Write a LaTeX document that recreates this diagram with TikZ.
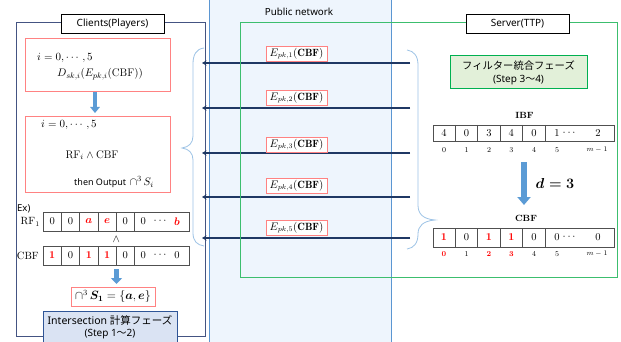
\documentclass[tikz,border=0pt]{standalone}
\usepackage{amsmath,amssymb}
\usepackage{fontspec}
\newfontfamily\carl{Noto Sans}
\newfontfamily\jp{Noto Sans CJK JP}
\usetikzlibrary{arrows.meta}
\definecolor{pnfill}{RGB}{238,245,253}
\definecolor{pnline}{RGB}{91,150,210}
\definecolor{clline}{RGB}{68,84,130}
\definecolor{grline}{RGB}{60,190,110}
\definecolor{pinkc}{RGB}{255,130,130}
\definecolor{navy}{RGB}{31,56,100}
\definecolor{braceC}{RGB}{157,195,230}
\definecolor{blueA}{RGB}{91,155,213}
\definecolor{phgfill}{RGB}{226,240,217}
\definecolor{phgline}{RGB}{0,176,80}
\definecolor{phbfill}{RGB}{218,227,243}
\definecolor{phbline}{RGB}{47,85,151}
\definecolor{cellC}{RGB}{80,80,80}
\definecolor{redT}{RGB}{255,0,0}
\tikzset{
  titlebox/.style={draw=black, fill=white, line width=0.8pt, minimum width=103pt, minimum height=19pt, inner sep=0pt, font=\carl\fontsize{10}{11}\selectfont},
  pinkbox/.style={draw=pinkc, fill=white, line width=0.8pt, inner sep=0pt},
  elabel/.style={draw=pinkc, fill=white, line width=0.7pt, minimum width=61pt, minimum height=15pt, inner sep=0pt, font=\fontsize{10.5}{11}\selectfont},
  netarrow/.style={draw=navy, line width=1.3pt, -{Stealth[length=4.5pt,width=5pt]}},
  bracel/.style={draw=braceC, line width=0.8pt},
  cellrow/.style={draw=cellC, line width=0.7pt},
  val/.style={inner sep=0pt, font=\fontsize{10.5}{10.5}\selectfont},
  idx/.style={inner sep=0pt, font=\fontsize{7.5}{8}\selectfont},
  mth/.style={inner sep=0pt, font=\fontsize{11}{12}\selectfont},
  blockarrow/.style={draw=blueA},
}
\begin{document}
\begin{tikzpicture}[x=1pt,y=-1pt]
\useasboundingbox (0,0) rectangle (621,342);
\clip (0,0) rectangle (621,342);
\fill[white] (0,0) rectangle (621,342);
% public network panel
\fill[pnfill] (209,-2) rectangle (391,344);
\draw[pnline, line width=0.9pt] (209,-2) -- (209,344) (391,-2) -- (391,344);
\node[inner sep=0pt, font=\carl\fontsize{9.8}{10}\selectfont] (pn) at (299,12) {Public network};
% clients frame
\draw[clline, line width=1pt] (16,23) rectangle (205,336);
% arrows
\foreach \i/\y in {1/63,2/108,3/153,4/197,5/238}{
  \coordinate (s\i) at (410,\y);
  \coordinate (c\i) at (202,\y);
  \draw[netarrow] (s\i) -- (c\i);
}
% server frame
\draw[grline, line width=1pt] (240,23) rectangle (617,277);
% labels on arrows
\foreach \i/\y in {1/53.5,2/97.5,3/144.5,4/185.5,5/227.5}{
  \node[elabel] (e\i) at (296.5,\y) {$E_{pk,\i}(\mathbf{CBF})$};
}
% title boxes
\node[titlebox] (cl) at (112.5,23.5) {Clients(Players)};
\node[titlebox] (sv) at (517.5,23.5) {Server(TTP)};
% braces
\draw[bracel] (204,48) .. controls (196,49) and (193,55) .. (193,64) -- (193,136)
  .. controls (193,143) and (189,147) .. (182,148)
  .. controls (189,149) and (193,153) .. (193,160) -- (193,233)
  .. controls (193,241) and (197,245) .. (204,246);
\draw[bracel] (407,50) .. controls (414,51) and (418,56) .. (418,65) -- (418,205)
  .. controls (418,214) and (423,219) .. (435,220)
  .. controls (423,221) and (418,226) .. (418,234)
  .. controls (418,243) and (414,248) .. (407,249);
% ---------------- client side ----------------
\node[pinkbox, minimum width=145pt, minimum height=53pt] (p1) at (97.5,64.5) {};
\node[mth, anchor=west] (p1a) at (37,58) {$i=0,\cdots,5$};
\node[mth, anchor=west] (p1b) at (57,74) {$D_{sk,i}(E_{pk,i}(\mathrm{CBF}))$};
\draw[blockarrow, line width=4pt, -{Triangle[width=9.5pt,length=6pt]}] (95,92.5) coordinate (a1s) -- (95,113) coordinate (a1e);
\node[pinkbox, minimum width=145pt, minimum height=76pt] (p2) at (97.5,154) {};
\node[mth, anchor=west] (p2a) at (41,125) {$i=0,\cdots,5$};
\node[mth] (p2b) at (92,155) {$\mathrm{RF}_i\wedge\mathrm{CBF}$};
\node[mth, anchor=west] (p2c) at (74,182) {{\carl\fontsize{9}{10}\selectfont then Output} $\cap^3\,S_i$};
\node[inner sep=0pt, anchor=west, font=\carl\fontsize{9.5}{10}\selectfont] (ex) at (17,209) {Ex)};
\node[val, anchor=east] (rfl) at (40,222) {$\mathrm{RF}_1$};
\node[val, anchor=east] (cbfl) at (39,255.5) {CBF};
% RF1 row
\draw[cellrow] (43,212) rectangle (189,231);
\draw[cellrow] (43,246) rectangle (189,265);
\foreach \x in {61.3,79.7,98,116.3,134.3}{
  \draw[cellrow] (\x,212) -- (\x,231);
  \draw[cellrow] (\x,246) -- (\x,265);
}
\node[val] (r0) at (52.2,221.5) {0};
\node[val] (r1) at (70.5,221.5) {0};
\node[val, text=redT] (r2) at (88.8,221.5) {$\boldsymbol{a}$};
\node[val, text=redT] (r3) at (107.2,221.5) {$\boldsymbol{e}$};
\node[val] (r4) at (125.3,221.5) {0};
\node[val] (r5) at (143.3,221.5) {0};
\node[val] (r6) at (161,221.5) {$\cdots$};
\node[val, text=redT] (r7) at (177,221.5) {$\boldsymbol{b}$};
\node[val] (and) at (116.3,239) {$\wedge$};
\node[val, text=redT] (c0) at (52.2,255.5) {\bfseries 1};
\node[val] (c1) at (70.5,255.5) {0};
\node[val, text=redT] (c2) at (88.8,255.5) {\bfseries 1};
\node[val, text=redT] (c3) at (107.2,255.5) {\bfseries 1};
\node[val] (c4) at (125.3,255.5) {0};
\node[val] (c5) at (143.3,255.5) {0};
\node[val] (c6) at (161,255.5) {$\cdots$};
\node[val] (c7) at (177,255.5) {0};
\draw[blockarrow, line width=5pt, -{Triangle[width=11pt,length=6pt]}] (116.5,269) coordinate (a2s) -- (116.5,284) coordinate (a2e);
\node[pinkbox, minimum width=84pt, minimum height=19pt, font=\fontsize{11.5}{12}\selectfont] (res) at (113,296.5) {$\cap^3\,\boldsymbol{S_1}=\{\boldsymbol{a},\boldsymbol{e}\}$};
\node[draw=phbline, fill=phbfill, line width=1pt, minimum width=134pt, minimum height=36pt, inner sep=0pt] (iph) at (110,329) {};
\node[inner sep=0pt, font=\fontsize{10.5}{11}\selectfont] (iph1) at (110,320) {\carl Intersection \jp 計算フェーズ};
\node[inner sep=0pt, font=\fontsize{10}{10}\selectfont] (iph2) at (110,334) {\carl (Step 1\jp 〜\carl 2)};
% ---------------- server side ----------------
\node[draw=phgline, fill=phgfill, line width=1pt, minimum width=137pt, minimum height=33pt, inner sep=0pt] (fph) at (518.5,72.5) {};
\node[inner sep=0pt, font=\jp\fontsize{10.3}{11}\selectfont] (fph1) at (518.5,66) {フィルター統合フェーズ};
\node[inner sep=0pt, font=\fontsize{10}{10}\selectfont] (fph2) at (518.5,80) {\carl (Step 3\jp 〜\carl 4)};
\node[inner sep=0pt, font=\bfseries\fontsize{9}{10}\selectfont] (ibfl) at (524.5,115) {IBF};
\draw[cellrow] (433,125) rectangle (614,141);
\draw[cellrow] (433,228) rectangle (614,247);
\foreach \x in {455.3,477.7,500,522.7,545}{
  \draw[cellrow] (\x,125) -- (\x,141);
  \draw[cellrow] (\x,228) -- (\x,247);
}
\foreach \v/\x [count=\k] in {4/444,0/466.5,3/489,4/511.3,0/534,1/557,{$\cdots$}/570,2/598}{
  \node[val] (ib\k) at (\x,133) {\v};
}
\foreach \v/\x [count=\k] in {0/444,1/466.5,2/489,3/511.3,4/534,5/557,{$m-1$}/597}{
  \node[idx] (ii\k) at (\x,150) {\v};
}
\draw[blockarrow, line width=6pt, -{Triangle[width=13pt,length=8pt]}] (524,162) coordinate (a3s) -- (524,205) coordinate (a3e);
\node[inner sep=0pt, font=\fontsize{14}{14}\selectfont] (d3) at (555,183) {$\boldsymbol{d=3}$};
\node[inner sep=0pt, font=\bfseries\fontsize{9}{10}\selectfont] (cbfr) at (526,218) {CBF};
\node[val, text=redT] (cb1) at (444,237.5) {\bfseries 1};
\node[val] (cb2) at (466.5,237.5) {0};
\node[val, text=redT] (cb3) at (489,237.5) {\bfseries 1};
\node[val, text=redT] (cb4) at (511.3,237.5) {\bfseries 1};
\node[val] (cb5) at (534,237.5) {0};
\node[val] (cb6) at (557,237.5) {0};
\node[val] (cb7) at (570,237.5) {$\cdots$};
\node[val] (cb8) at (598,237.5) {0};
\node[idx, text=redT] (ci1) at (444,254) {\bfseries 0};
\node[idx] (ci2) at (466.5,254) {1};
\node[idx, text=redT] (ci3) at (489,254) {\bfseries 2};
\node[idx, text=redT] (ci4) at (511.3,254) {\bfseries 3};
\node[idx] (ci5) at (534,254) {4};
\node[idx] (ci6) at (557,254) {5};
\node[idx] (ci7) at (597,254) {$m-1$};
\end{tikzpicture}
\end{document}
